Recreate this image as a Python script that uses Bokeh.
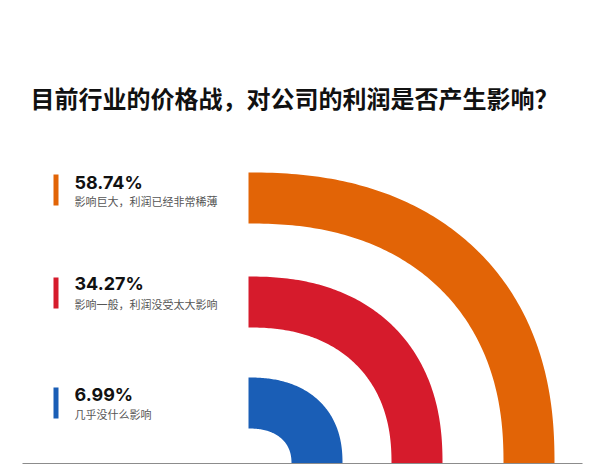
import numpy as np
from bokeh.plotting import figure
from bokeh.models import Range1d, ColumnDataSource
from bokeh.core.properties import value
from bokeh.embed import file_html
from bokeh.resources import INLINE

# ---- data ----
title = "目前行业的价格战，对公司的利润是否产生影响？"
percent_labels = ["58.74%", "34.27%", "6.99%"]
descriptions = ["影响巨大，利润已经非常稀薄", "影响一般，利润没受太大影响", "几乎没什么影响"]
colors = ["#E26406", "#D61B2C", "#1A5EB6"]

# ---- layout (page pixel coordinates) ----
W, H = 592, 465
cx, cy = 248, 463
outer_a = [306, 194, 94]   # horizontal radii
outer_b = [291, 187, 86]   # vertical radii
inner_a = [255, 143, 43]
inner_b = [240, 136, 35]
n_exp = 2.3
pct_mid_y = [181.5, 282.5, 393.5]
desc_mid_y = [200.5, 303, 413.5]
bar_top = [174, 277, 387]
bar_bottom = [205, 308, 418]

p = figure(width=W, height=H, output_backend="svg", toolbar_location=None,
           x_range=Range1d(0, W), y_range=Range1d(H, 0),
           min_border=0)
p.axis.visible = False
p.grid.visible = False
p.outline_line_color = None
p.background_fill_color = "white"
p.border_fill_color = "white"

t = np.linspace(0, np.pi / 2, 120)
xs, ys = [], []
for ao, bo, ai, bi in zip(outer_a, outer_b, inner_a, inner_b):
    c = np.cos(t) ** (2 / n_exp)
    s = np.sin(t) ** (2 / n_exp)
    xo = cx + ao * c
    yo = cy - bo * s
    xi = cx + ai * c[::-1]
    yi = cy - bi * s[::-1]
    xs.append(list(np.concatenate([xo, xi])))
    ys.append(list(np.concatenate([yo, yi])))

p.patches(xs=xs, ys=ys, fill_color=colors, line_color=None)

# baseline
p.segment(x0=[22], y0=[cy], x1=[582], y1=[cy], line_color="#8C8C8C", line_width=1.2)

# legend bars
p.quad(left=[53] * 3, right=[58] * 3, top=bar_top, bottom=bar_bottom,
       fill_color=colors, line_color=None)

src = ColumnDataSource(dict(x=[74] * 3, py=pct_mid_y, dy=desc_mid_y,
                            pct=percent_labels, desc=descriptions))
p.text(x="x", y="py", text="pct", source=src, text_font=value("Inter"),
       text_font_style="bold", text_font_size="18px", text_color="#111111",
       text_baseline="middle", text_align="left")
p.text(x="x", y="dy", text="desc", source=src, text_font=value("Noto Sans CJK SC"),
       text_font_size="11px", text_color="#555555",
       text_baseline="middle", text_align="left")

p.text(x=[30], y=[96.5], text=[title], text_font=value("Noto Sans CJK SC"),
       text_font_style="bold", text_font_size="24px", text_color="#111111",
       text_baseline="middle", text_align="left")

open("out.html", "w").write(file_html(p, INLINE))
